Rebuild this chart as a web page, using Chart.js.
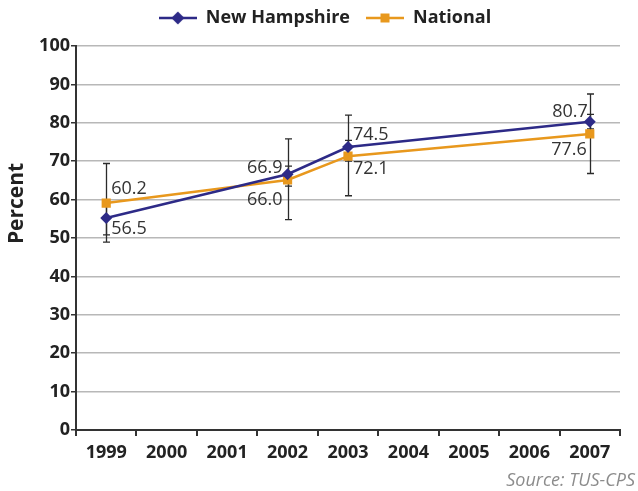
<!DOCTYPE html>
<html>
<head>
<meta charset="utf-8">
<script src="https://cdn.jsdelivr.net/npm/chart.js@4.4.1/dist/chart.umd.min.js"></script>
<style>
  html, body { margin: 0; padding: 0; background: #fff; }
  #wrap { width: 638px; height: 491px; }
</style>
</head>
<body>
<div id="wrap"><canvas id="chart" width="638" height="491"></canvas></div>
<script>
// years on the axis, and the years that have survey points
const years = ["1999", "2000", "2001", "2002", "2003", "2004", "2005", "2006", "2007"];
const pointYears = ["1999", "2002", "2003", "2007"];

// New Hampshire (plotted value, printed label, error bar ends)
const nhValues = [55.2, 66.6, 73.7, 80.3];
const nhLabels = ["56.5", "66.9", "74.5", "80.7"];
const nhLow = [50.8, 63.5, 70.0, 78.4];
const nhHigh = [59.6, 68.7, 75.4, 82.2];

// National
const natValues = [59.1, 65.1, 71.3, 77.1];
const natLabels = ["60.2", "66.0", "72.1", "77.6"];
const natLow = [48.9, 54.8, 61.0, 66.8];
const natHigh = [69.4, 75.8, 82.0, 87.5];

const yTicks = [0, 10, 20, 30, 40, 50, 60, 70, 80, 90, 100];

const NAVY = "#2d2a87";
const ORANGE = "#e8981d";
const FONT = "'Open Sans', 'DejaVu Sans', sans-serif";

// where each value label sits next to its point: [dx, dy, align]
const labelPlace = [
  [[5, 11, "left"], [-5, -6, "right"], [5, -12, "left"], [-2, -10, "right"]],
  [[5, -14, "left"], [-5, 20, "right"], [5, 13, "left"], [-3, 16, "right"]],
];

function legendIcon(color, style) {
  const c = document.createElement("canvas");
  c.width = 38;
  c.height = 14;
  const ctx = c.getContext("2d");
  ctx.strokeStyle = color;
  ctx.fillStyle = color;
  ctx.lineWidth = 2.5;
  ctx.beginPath();
  ctx.moveTo(0, 7);
  ctx.lineTo(38, 7);
  ctx.stroke();
  ctx.beginPath();
  if (style === "diamond") {
    ctx.moveTo(19, 0.5);
    ctx.lineTo(25.5, 7);
    ctx.lineTo(19, 13.5);
    ctx.lineTo(12.5, 7);
  } else {
    ctx.rect(14.5, 2.5, 9, 9);
  }
  ctx.fill();
  return c;
}
const icons = [legendIcon(NAVY, "diamond"), legendIcon(ORANGE, "square")];

// pull the legend row up closer to the top edge
const legendNudge = {
  id: "legendNudge",
  afterLayout: (chart) => {
    if (chart.legend) {
      chart.legend.top -= 9;
      chart.legend.bottom -= 9;
    }
  },
};

const errorBars = {
  id: "errorBars",
  beforeDatasetsDraw: (chart) => {
    const ctx = chart.ctx;
    const x = chart.scales.x;
    const y = chart.scales.y;
    const bars = [[nhLow, nhHigh], [natLow, natHigh]];
    ctx.save();
    ctx.strokeStyle = "#2b2b2b";
    ctx.lineWidth = 1.3;
    bars.forEach(([lo, hi]) => {
      pointYears.forEach((yr, i) => {
        const px = Math.round(x.getPixelForValue(years.indexOf(yr))) + 0.5;
        const y1 = y.getPixelForValue(lo[i]);
        const y2 = y.getPixelForValue(hi[i]);
        ctx.beginPath();
        ctx.moveTo(px, y1);
        ctx.lineTo(px, y2);
        ctx.moveTo(px - 3.5, y1);
        ctx.lineTo(px + 3.5, y1);
        ctx.moveTo(px - 3.5, y2);
        ctx.lineTo(px + 3.5, y2);
        ctx.stroke();
      });
    });
    ctx.restore();
  },
};

const valueLabels = {
  id: "valueLabels",
  afterDatasetsDraw: (chart) => {
    const ctx = chart.ctx;
    const texts = [nhLabels, natLabels];
    ctx.save();
    ctx.font = "18px " + FONT;
    ctx.fillStyle = "#333";
    ctx.textBaseline = "middle";
    chart.data.datasets.forEach((ds, d) => {
      chart.getDatasetMeta(d).data.forEach((pt, i) => {
        const [dx, dy, align] = labelPlace[d][i];
        ctx.textAlign = align;
        ctx.fillText(texts[d][i], pt.x + dx, pt.y + dy);
      });
    });
    ctx.restore();
  },
};

const extraText = {
  id: "extraText",
  afterDraw: (chart) => {
    const ctx = chart.ctx;
    const { top, bottom } = chart.chartArea;
    ctx.save();
    // axis title
    ctx.translate(17, top + (bottom - top) * 0.41);
    ctx.rotate(-Math.PI / 2);
    ctx.font = "bold 21px " + FONT;
    ctx.fillStyle = "#222";
    ctx.textAlign = "center";
    ctx.textBaseline = "middle";
    ctx.fillText("Percent", 0, 0);
    ctx.restore();
    // source note
    ctx.save();
    ctx.font = "italic 18px " + FONT;
    ctx.fillStyle = "#8c8c8c";
    ctx.textAlign = "right";
    ctx.textBaseline = "middle";
    ctx.fillText("Source: TUS-CPS", chart.width - 3, chart.height - 10);
    ctx.restore();
  },
};

new Chart("chart", {
  type: "line",
  data: {
    labels: years,
    datasets: [
      {
        label: "New Hampshire",
        data: pointYears.map((yr, i) => ({ x: yr, y: nhValues[i] })),
        borderColor: NAVY,
        backgroundColor: NAVY,
        borderWidth: 2.5,
        pointStyle: "rectRot",
        pointRadius: 6,
        pointBorderWidth: 0,
        fill: false,
      },
      {
        label: "National",
        data: pointYears.map((yr, i) => ({ x: yr, y: natValues[i] })),
        borderColor: ORANGE,
        backgroundColor: ORANGE,
        borderWidth: 2.5,
        pointStyle: "rect",
        pointRadius: 6.5,
        pointBorderWidth: 0,
        fill: false,
      },
    ],
  },
  options: {
    responsive: false,
    animation: false,
    layout: { padding: { left: 30, right: 18, top: 2, bottom: 30 } },
    scales: {
      x: {
        type: "category",
        offset: true,
        grid: {
          display: true,
          drawOnChartArea: false,
          offset: true,
          tickLength: 6,
          tickColor: "#333",
          lineWidth: 2,
        },
        border: { color: "#333", width: 2 },
        ticks: {
          color: "#222",
          padding: 6,
          maxRotation: 0,
          autoSkip: false,
          font: { family: FONT, size: 18, weight: "bold" },
        },
        afterFit: (s) => { s.height = 31; },
      },
      y: {
        min: 0,
        max: 100,
        afterBuildTicks: (s) => { s.ticks = yTicks.map((v) => ({ value: v })); },
        grid: {
          color: "#b8b8b8",
          lineWidth: 1.5,
          tickLength: 5,
          tickColor: "#333",
        },
        border: { color: "#333", width: 2 },
        ticks: {
          color: "#222",
          padding: 1,
          font: { family: FONT, size: 18, weight: "bold" },
        },
        afterFit: (s) => { s.width = 46; },
      },
    },
    plugins: {
      legend: {
        display: true,
        position: "top",
        labels: {
          usePointStyle: true,
          pointStyleWidth: 38,
          boxHeight: 14,
          padding: 16,
          color: "#222",
          font: { family: FONT, size: 18, weight: "bold" },
          generateLabels: (chart) => {
            const items = Chart.defaults.plugins.legend.labels.generateLabels(chart);
            items.forEach((it, i) => { it.pointStyle = icons[i]; });
            return items;
          },
        },
      },
      tooltip: { enabled: false },
    },
  },
  plugins: [legendNudge, errorBars, valueLabels, extraText],
});
</script>
</body>
</html>
